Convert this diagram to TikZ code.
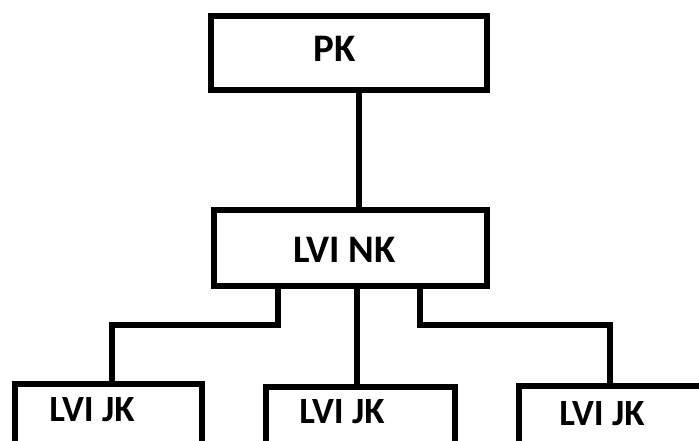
\documentclass[tikz,border=0pt]{standalone}
\usepackage{fontspec}
\setmainfont{Carlito}
\begin{document}
\begin{tikzpicture}[x=1pt,y=-1pt,
  box/.style={draw=black,line width=6pt,rectangle,inner sep=0pt,fill=white},
  wire/.style={draw=black,line width=6pt,line join=miter},
  big/.style={font=\fontsize{39}{39}\selectfont\bfseries,inner sep=0pt,anchor=base},
  small/.style={font=\fontsize{37}{37}\selectfont\bfseries,inner sep=0pt,anchor=base}]
\useasboundingbox (0,0) rectangle (699,441);
\clip (0,0) rectangle (699,441);
% boxes
\node[box,minimum width=276pt,minimum height=73.5pt] (pk) at (349,53.25) {};
\node[box,minimum width=273.5pt,minimum height=76pt] (nk) at (350.25,248) {};
\node[box,minimum width=187pt,minimum height=90pt] (jk1) at (108,428.5) {};
\node[box,minimum width=189pt,minimum height=90pt] (jk2) at (360,431.5) {};
\node[box,minimum width=192pt,minimum height=90pt] (jk3) at (614.5,431) {};
% texts
\node[big] (pkt) at (335,62) {PK};
\node[big] (nkt) at (344.5,262) {LVI NK};
\node[small] (jt1) at (92,421) {LVI JK};
\node[small] (jt2) at (342,423) {LVI JK};
\node[small] (jt3) at (602,425) {LVI JK};
% connectors
\coordinate (c1) at (111.5,325);
\coordinate (c3) at (609.5,325);
\draw[wire] (pk.south -| 359,0) -- (nk.north -| 359,0);
\draw[wire] (nk.south -| 277.5,0) |- (c1) -- (jk1.north -| c1);
\draw[wire] (nk.south -| 356.5,0) -- (jk2.north -| 356.5,0);
\draw[wire] (nk.south -| 419.5,0) |- (c3) -- (jk3.north -| c3);
\end{tikzpicture}
\end{document}
